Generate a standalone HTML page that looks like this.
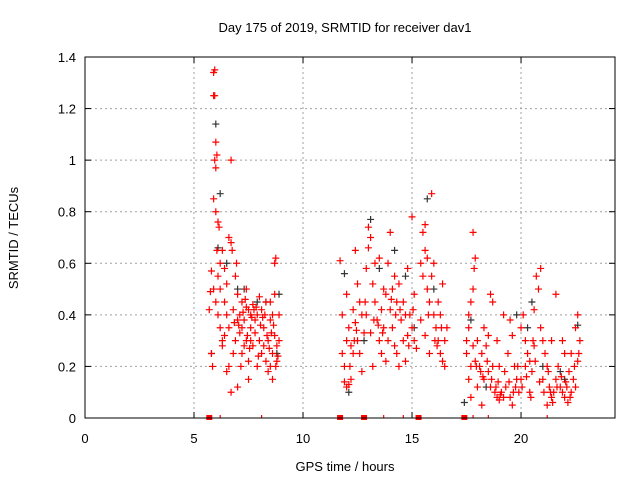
<!DOCTYPE html>
<html><head><meta charset="utf-8"><style>
body{margin:0;background:#fff}
svg{display:block;font-family:"Liberation Sans",sans-serif}
</style></head><body>
<svg id="chart" width="640" height="480">
<text x="345" y="32" font-size="13" text-anchor="middle">Day 175 of 2019, SRMTID for receiver dav1</text>
<text x="345" y="471" font-size="13" text-anchor="middle">GPS time / hours</text>
<text transform="translate(18,238) rotate(-90)" font-size="13" text-anchor="middle">SRMTID / TECUs</text>
<g id="grid"></g><g id="marks"></g>
<rect x="85" y="57" width="530" height="361" fill="none" stroke="#000"/>
<g id="ticks"></g>
</svg>
<script>
const xTicks=[0,5,10,15,20];
const yTicks=[0,0.2,0.4,0.6,0.8,1,1.2,1.4];
const yTickLabels=["0","0.2","0.4","0.6","0.8","1","1.2","1.4"];
const redX=[5.7,5.75,5.8,5.85,5.9,5.9,5.95,5.9,5.95,6.0,5.95,6.0,6.05,5.9,6.0,6.1,6.15,6.05,6.1,6.2,6.0,6.1,6.2,6.3,6.4,6.5,6.6,6.7,6.75,6.7,6.4,6.5,6.6,6.8,6.9,7.0,7.1,7.2,7.3,7.4,7.5,7.6,7.7,7.8,7.9,8.0,8.1,8.2,8.3,8.4,8.5,8.6,8.7,8.8,8.9,8.7,8.75,6.5,6.6,6.7,7.0,7.2,7.4,7.5,7.7,7.9,8.1,8.3,8.4,8.5,8.6,8.8,6.9,7.1,7.3,7.6,7.8,8.0,8.2,6.8,6.3,5.8,7.5,8.5,8.7,8.9,6.4,7.0,7.6,7.4,7.2,8.6,6.95,6.3,6.2,
11.7,11.8,11.8,11.9,11.9,12.0,12.1,12.2,12.0,12.1,12.2,12.3,12.4,12.5,12.4,12.5,12.6,12.7,12.8,12.9,12.9,13.0,13.0,13.1,13.2,13.3,13.4,13.5,13.6,13.7,13.8,13.9,14.0,14.1,14.2,14.3,14.4,14.5,14.6,14.7,14.8,14.9,15.0,15.0,15.1,15.2,14.0,13.5,13.2,13.7,14.2,14.6,12.7,12.3,13.9,14.4,14.8,15.4,15.5,15.5,15.6,15.6,15.7,15.8,15.9,15.9,16.0,16.1,16.2,16.3,16.4,16.5,16.2,16.4,15.4,15.6,15.8,16.0,16.3,16.5,16.6,15.7,12.0,12.6,13.3,13.1,13.8,14.1,14.7,15.1,14.3,13.6,
17.8,17.9,17.85,17.8,17.7,17.6,17.5,17.5,17.6,17.7,17.8,17.9,18.0,18.1,18.2,18.3,18.4,18.5,18.6,18.7,18.8,18.9,19.0,19.1,19.2,19.3,18.7,18.6,18.9,19.0,19.4,19.5,19.6,19.7,19.8,19.9,20.0,20.1,20.2,20.3,20.4,20.5,20.6,20.7,20.8,20.9,20.9,21.0,21.1,21.2,21.3,21.4,21.5,21.6,21.7,21.8,21.9,22.0,22.1,22.2,22.3,22.4,22.5,22.6,22.7,22.6,21.4,21.6,22.0,21.2,20.4,20.0,19.6,18.2,17.7,18.5,19.2,20.2,21.0,21.9,22.3,19.5,18.0,20.6,22.5,17.6,18.3,
7.05,7.25,7.45,7.65,7.85,8.05,8.25,8.45,8.65,8.85,7.15,7.55,7.95,8.35,8.75,6.85,7.35,7.75,8.15,8.55,
12.15,12.45,12.85,13.25,13.65,14.05,14.45,14.85,15.75,16.05,16.35,12.35,13.45,14.25,15.05,16.15,
18.45,18.65,18.85,19.05,19.25,19.45,19.65,19.85,20.05,20.25,20.45,20.65,20.85,21.05,21.25,21.45,21.65,21.85,22.05,22.25,22.45,22.65,18.15,18.95,19.75,20.55,21.35,22.15,17.95,18.25];
const redY=[0.42,0.49,0.57,0.2,0.5,1.34,1.35,1.25,1.25,1.07,1.0,0.97,1.02,0.85,0.8,0.76,0.74,0.65,0.55,0.6,0.45,0.4,0.35,0.3,0.58,0.52,0.7,0.68,0.65,1.0,0.45,0.4,0.35,0.42,0.55,0.48,0.4,0.45,0.38,0.5,0.42,0.35,0.44,0.38,0.4,0.47,0.42,0.35,0.45,0.3,0.38,0.25,0.32,0.28,0.4,0.6,0.62,0.18,0.2,0.1,0.12,0.25,0.3,0.22,0.28,0.2,0.25,0.22,0.18,0.2,0.15,0.22,0.3,0.33,0.28,0.3,0.33,0.3,0.28,0.25,0.28,0.25,0.15,0.45,0.48,0.3,0.32,0.38,0.4,0.43,0.35,0.4,0.6,0.65,0.5,
0.61,0.4,0.25,0.2,0.14,0.12,0.13,0.15,0.3,0.35,0.28,0.42,0.37,0.52,0.65,0.3,0.25,0.18,0.33,0.4,0.58,0.66,0.74,0.7,0.52,0.45,0.38,0.3,0.25,0.5,0.48,0.6,0.42,0.35,0.28,0.45,0.52,0.38,0.3,0.22,0.58,0.4,0.35,0.78,0.3,0.27,0.72,0.62,0.2,0.35,0.55,0.45,0.4,0.25,0.3,0.2,0.32,0.6,0.55,0.72,0.75,0.65,0.5,0.45,0.55,0.87,0.4,0.35,0.3,0.25,0.22,0.3,0.45,0.52,0.38,0.32,0.25,0.6,0.4,0.2,0.35,0.62,0.48,0.45,0.6,0.33,0.22,0.5,0.4,0.48,0.25,0.42,
0.72,0.62,0.58,0.5,0.45,0.35,0.3,0.25,0.15,0.2,0.28,0.22,0.3,0.2,0.25,0.15,0.28,0.18,0.12,0.2,0.1,0.08,0.07,0.1,0.08,0.12,0.45,0.48,0.3,0.2,0.25,0.38,0.32,0.2,0.15,0.1,0.35,0.4,0.3,0.25,0.22,0.18,0.42,0.55,0.5,0.58,0.35,0.3,0.25,0.2,0.12,0.08,0.1,0.15,0.2,0.12,0.1,0.08,0.12,0.18,0.25,0.15,0.35,0.4,0.3,0.22,0.3,0.48,0.25,0.05,0.1,0.15,0.05,0.05,0.08,0.32,0.4,0.2,0.15,0.3,0.1,0.08,0.12,0.28,0.12,0.4,0.35,
0.36,0.41,0.32,0.39,0.43,0.36,0.4,0.27,0.36,0.24,0.2,0.27,0.24,0.32,0.2,0.37,0.46,0.42,0.39,0.33,
0.2,0.34,0.45,0.38,0.33,0.46,0.42,0.28,0.4,0.3,0.35,0.3,0.36,0.4,0.42,0.28,
0.22,0.15,0.12,0.09,0.18,0.14,0.1,0.2,0.12,0.16,0.08,0.22,0.14,0.1,0.18,0.06,0.12,0.16,0.14,0.08,0.2,0.25,0.18,0.14,0.12,0.3,0.1,0.06,0.2,0.16];
const greyX=[6.0,6.2,6.1,6.5,7.0,7.3,8.3,8.9,8.8,5.8,7.9,11.9,12.1,13.1,13.5,14.2,14.7,15.7,15.1,16.0,12.8,17.7,18.4,19.8,20.3,21.0,21.8,22.6,20.5,17.4,22.0];
const greyY=[1.14,0.87,0.66,0.6,0.5,0.5,0.45,0.48,0.25,0.25,0.45,0.56,0.1,0.77,0.58,0.65,0.55,0.85,0.35,0.5,0.3,0.38,0.12,0.4,0.35,0.2,0.18,0.36,0.45,0.06,0.15];
const squareX=[5.7,11.7,12.8,15.3,17.4];
const tickMarkX=[6.2,8.1,13.7,14.6,15.2,17.8,18.5,21.2];
const NS="http://www.w3.org/2000/svg";
const X0=85,X1=615,XMAX=24.31,Y0=418,Y1=57,YMAX=1.4;
function sx(v){return X0+v/XMAX*(X1-X0);}
function sy(v){return Y0-v/YMAX*(Y0-Y1);}
function mk(tag,a,p){const e=document.createElementNS(NS,tag);for(const k in a)e.setAttribute(k,a[k]);p.appendChild(e);return e;}
const grid=document.getElementById('grid'),marks=document.getElementById('marks'),ticks=document.getElementById('ticks');
xTicks.forEach(t=>{const x=sx(t);
 if(t>0){const g=mk('line',{x1:x,x2:x,y1:Y1,y2:Y0,stroke:'#a0a0a0','stroke-dasharray':'2,3'},grid);
 
 }
 mk('line',{x1:x,x2:x,y1:Y0,y2:Y0-6,stroke:'#000'},ticks);mk('line',{x1:x,x2:x,y1:Y1,y2:Y1+6,stroke:'#000'},ticks);
 const l=mk('text',{x:x,y:443,'font-size':13,'text-anchor':'middle'},ticks);l.textContent=t;
 
 });
yTicks.forEach((t,i)=>{const y=sy(t);
 if(t>0&&t<YMAX){const g=mk('line',{x1:X0,x2:X1,y1:y,y2:y,stroke:'#a0a0a0','stroke-dasharray':'2,3'},grid);
 
 }
 mk('line',{x1:X0,x2:X0+6,y1:y,y2:y,stroke:'#000'},ticks);mk('line',{x1:X1,x2:X1-6,y1:y,y2:y,stroke:'#000'},ticks);
 const l=mk('text',{x:X0-9,y:y+5,'font-size':13,'text-anchor':'end'},ticks);l.textContent=yTickLabels[i];
 
 });
function cross(x,y,c,name){const p=mk('path',{d:`M${sx(x)-3.5},${sy(y)}h7M${sx(x)},${sy(y)-3.5}v7`,stroke:c,'stroke-width':1.2,fill:'none'},marks);
 
 }
greyX.forEach((x,i)=>cross(x,greyY[i],'#333','grey-point'));
redX.forEach((x,i)=>cross(x,redY[i],'#ff0000','red-point'));
squareX.forEach(x=>{const r=mk('rect',{x:sx(x)-3,y:Y0-3,width:6,height:5,fill:'#ff0000'},marks);
 
 });
tickMarkX.forEach(x=>{const r=mk('line',{x1:sx(x),x2:sx(x),y1:Y0-3,y2:Y0,stroke:'#ff0000','stroke-width':1.2},marks);
 
 });
</script>
</body></html>
